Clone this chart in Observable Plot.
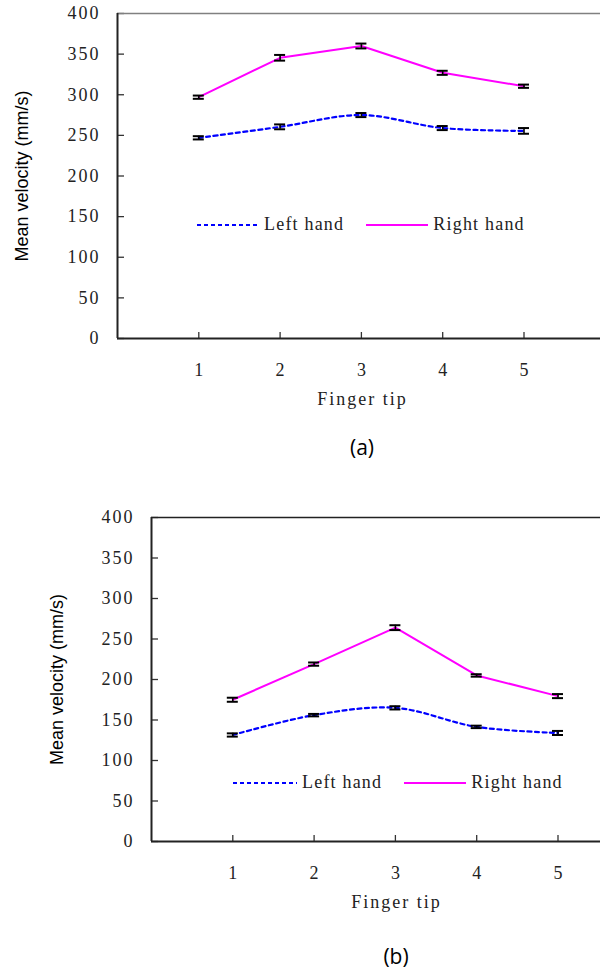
<!DOCTYPE html>
<html>
<head>
<meta charset="utf-8">
<script src="https://cdn.jsdelivr.net/npm/d3@7"></script>
<script src="https://cdn.jsdelivr.net/npm/@observablehq/plot@0.6"></script>
<style>
  body { margin: 0; background: #fff; width: 600px; height: 972px; position: relative; overflow: hidden; }
  .panel { position: absolute; left: 0; }
  .cap { position: absolute; font-family: "Open Sans", "Liberation Sans", sans-serif; font-size: 21px; color: #000; transform: translateX(-50%); line-height: 1; }
  .legend { position: absolute; display: flex; align-items: center; font-family: "Liberation Serif", serif; font-size: 18px; letter-spacing: 1.2px; color: #222; white-space: nowrap; }
  .legend svg { display: block; }
</style>
</head>
<body>
<div id="pa" class="panel" style="top:0px"></div>
<div class="legend" style="left:197px; top:214px">
  <svg width="62" height="20"><line x1="0" x2="62" y1="10" y2="10" stroke="#0000ff" stroke-width="2" stroke-dasharray="4,3"/></svg>
  <span style="margin-left:5px">Left hand</span>
  <svg width="62" height="20" style="margin-left:22px"><line x1="0" x2="62" y1="10" y2="10" stroke="#ff00ff" stroke-width="2"/></svg>
  <span style="margin-left:5px">Right hand</span>
</div>
<div class="cap" style="left:362px; top:437px">(a)</div>

<div id="pb" class="panel" style="top:500px"></div>
<div class="legend" style="left:233px; top:772px">
  <svg width="64" height="20"><line x1="0" x2="64" y1="10" y2="10" stroke="#0000ff" stroke-width="2" stroke-dasharray="4,3"/></svg>
  <span style="margin-left:5px">Left hand</span>
  <svg width="62" height="20" style="margin-left:22px"><line x1="0" x2="62" y1="10" y2="10" stroke="#ff00ff" stroke-width="2"/></svg>
  <span style="margin-left:5px">Right hand</span>
</div>
<div class="cap" style="left:396px; top:946px">(b)</div>

<script>
// ---- data ----
const fingers = [1, 2, 3, 4, 5];
const yTicks = [0, 50, 100, 150, 200, 250, 300, 350, 400];
const xLabel = "Finger tip";
const yLabel = "Mean velocity (mm/s)";

const leftA = [247, 260.5, 275, 259, 255.5];
const leftAErr = [2, 3, 2.5, 2.5, 3.5];
const rightA = [297, 345.5, 360, 327, 310.5];
const rightAErr = [2, 3.5, 3, 2.5, 2];

const leftB = [131.5, 156, 165, 141.5, 134];
const leftBErr = [2, 1.5, 2, 1.5, 2.5];
const rightB = [175, 219, 264, 205, 179.5];
const rightBErr = [2.5, 2, 3, 1.5, 2.5];

function rows(vals, errs) {
  return fingers.map((f, i) => ({f, v: vals[i], e: errs[i]}));
}

function panel({left, right, marginLeft, marginTop, height, marginBottom, topColor, labelDx}) {
  const L = rows(left.v, left.e), R = rows(right.v, right.e);
  const step = 81.3;
  const serif = "Liberation Serif, serif";
  const err = (data) => [
    Plot.ruleX(data, {x: "f", y1: d => d.v - d.e, y2: d => d.v + d.e, stroke: "#000", strokeWidth: 1.6}),
    Plot.ruleY(data, {y: d => d.v + d.e, x1: "f", x2: "f", insetLeft: -5.5, insetRight: -5.5, stroke: "#000", strokeWidth: 2}),
    Plot.ruleY(data, {y: d => d.v - d.e, x1: "f", x2: "f", insetLeft: -5.5, insetRight: -5.5, stroke: "#000", strokeWidth: 2})
  ];
  const svg = Plot.plot({
    width: 600,
    height,
    marginLeft,
    marginRight: 0,
    marginTop,
    marginBottom,
    style: {background: "#fff", color: "#222", overflow: "visible"},
    x: {domain: [0, 6], range: [marginLeft, marginLeft + 6 * step]},
    y: {domain: [0, 400], range: [height - marginBottom, marginTop]},
    marks: [
      Plot.axisY({ticks: yTicks, tickSize: 0, tickPadding: 17, label: null, tickFormat: d => String(d), fontFamily: serif, fontSize: 18, fill: "#222"}),
      Plot.axisY({ticks: yTicks, tickSize: 7, dx: 7, fill: "none", label: null, stroke: "#333", strokeWidth: 1.3}),
      Plot.axisX({ticks: fingers, tickSize: 0, tickPadding: 25, label: null, tickFormat: d => String(d), fontFamily: serif, fontSize: 18, fill: "#222", dx: 1}),
      Plot.axisX({ticks: fingers, tickSize: 6, dy: -6, fill: "none", label: null, stroke: "#333", strokeWidth: 1.3}),
      Plot.ruleY([400], {stroke: topColor, strokeWidth: 1.6}),
      Plot.ruleY([0], {stroke: "#222", strokeWidth: 2}),
      Plot.ruleX([0], {stroke: "#222", strokeWidth: 2}),
      Plot.line(L, {x: "f", y: "v", stroke: "#0000ff", strokeWidth: 2.2, strokeDasharray: "4,3.5", curve: "catmull-rom"}),
      Plot.line(R, {x: "f", y: "v", stroke: "#ff00ff", strokeWidth: 2}),
      ...err(L),
      ...err(R),
      Plot.text([xLabel], {x: fingers[2], frameAnchor: "bottom", dy: 66, dx: 1, text: d => d, fontFamily: serif, fontSize: 18, fill: "#222"}),
      Plot.text([yLabel], {frameAnchor: "left", dx: labelDx, rotate: -90, textAnchor: "middle", lineAnchor: "middle", text: d => d, fontFamily: "Liberation Sans, Arial, sans-serif", fontSize: 18, fill: "#000"})
    ]
  });
  // widen the serif texts (tick labels and x title) to match the reference's wide glyphs
  svg.querySelectorAll("text").forEach(t => {
    if (t.textContent !== yLabel) t.style.letterSpacing = "2px";
  });
  return svg;
}

document.getElementById("pa").append(panel({
  left: {v: leftA, e: leftAErr}, right: {v: rightA, e: rightAErr},
  marginLeft: 117, marginTop: 13, height: 420, marginBottom: 82, topColor: "#808080", labelDx: -95
}));
document.getElementById("pb").append(panel({
  left: {v: leftB, e: leftBErr}, right: {v: rightB, e: rightBErr},
  marginLeft: 151, marginTop: 17, height: 430, marginBottom: 89, topColor: "#222", labelDx: -94
}));
</script>
</body>
</html>
